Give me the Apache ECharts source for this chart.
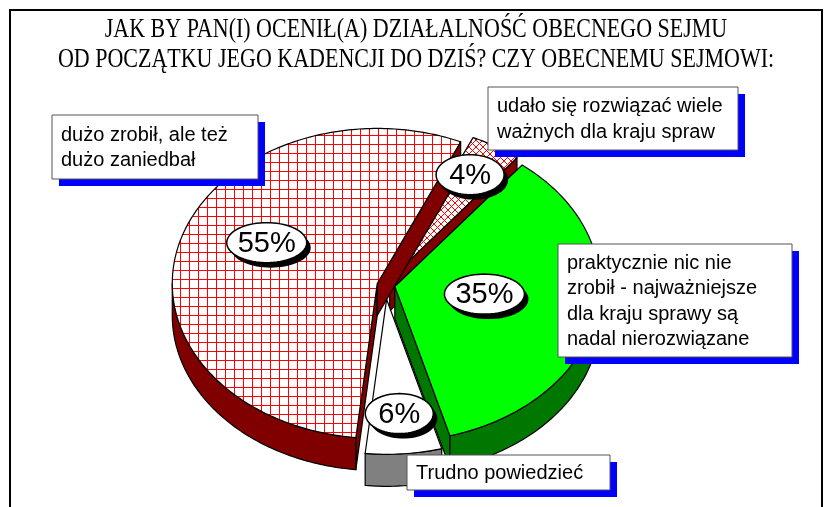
<!DOCTYPE html>
<html>
<head>
<meta charset="utf-8">
<script src="https://cdn.jsdelivr.net/npm/echarts@6/dist/echarts.min.js"></script>
<style>
  html, body { margin: 0; padding: 0; background: #fff; }
  #chart { width: 830px; height: 507px; }
</style>
</head>
<body>
<div id="chart"></div>
<script>
// dane wykresu (kolejnosc zgodnie z ruchem wskazowek zegara)
var categories = [
  'udało się rozwiązać wiele\nważnych dla kraju spraw',
  'praktycznie nic nie\nzrobił - najważniejsze\ndla kraju sprawy są\nnadal nierozwiązane',
  'Trudno powiedzieć',
  'dużo zrobił, ale też\ndużo zaniedbał'
];
var values = [4, 35, 6, 55];
var percentLabels = ['4%', '35%', '6%', '55%'];

var titleLines = [
  'JAK BY PAN(I) OCENIŁ(A) DZIAŁALNOŚĆ OBECNEGO SEJMU',
  'OD POCZĄTKU JEGO KADENCJI DO DZIŚ? CZY OBECNEMU SEJMOWI:'
];

// wyglad
var cx = 385, cy = 285, rx = 205, ry = 155, depth = 32;
var startAngle = 24; // stopnie, od godziny 12, zgodnie z zegarem
var explode = [9, 10, 19, 8];
var labelRadius = [0.78, 0.44, 0.74, 0.6];
var labelShift = [-1, -5, 0, 11];
var sideColors = ['#800000', '#007800', '#808080', '#800000'];

function makePattern(kind) {
  var c = document.createElement('canvas');
  var s = kind === 'grid' ? 9 : 7;
  c.width = s; c.height = s;
  var g = c.getContext('2d');
  g.fillStyle = '#fff';
  g.fillRect(0, 0, s, s);
  g.strokeStyle = '#ff0000';
  g.lineWidth = 1;
  g.beginPath();
  if (kind === 'grid') {
    g.moveTo(0.5, 0); g.lineTo(0.5, s);
    g.moveTo(0, 0.5); g.lineTo(s, 0.5);
  } else {
    g.moveTo(0, 0); g.lineTo(s, s);
    g.moveTo(s, 0); g.lineTo(0, s);
  }
  g.stroke();
  return { image: c, repeat: 'repeat' };
}
var topFills = [makePattern('cross'), '#00ff00', '#ffffff', makePattern('grid')];

var total = values.reduce(function (a, b) { return a + b; }, 0);

function pt(o, a, f) {
  var r = a * Math.PI / 180;
  return [o[0] + rx * f * Math.sin(r), o[1] - ry * f * Math.cos(r)];
}
function arc(o, from, to) {
  var pts = [];
  var n = Math.max(2, Math.ceil(Math.abs(to - from)));
  for (var k = 0; k <= n; k++) pts.push(pt(o, from + (to - from) * k / n, 1));
  return pts;
}
function down(p) { return [p[0], p[1] + depth]; }
function ellipse(x, y, ex, ey) {
  var pts = [];
  for (var k = 0; k < 72; k++) {
    var t = k / 72 * Math.PI * 2;
    pts.push([x + ex * Math.cos(t), y + ey * Math.sin(t)]);
  }
  return pts;
}

// kolejnosc rysowania: od tylu do przodu
var slices = [];
var cum = 0;
values.forEach(function (v, i) {
  var a0 = startAngle + 360 * cum / total;
  var a1 = a0 + 360 * v / total;
  cum += v;
  var mid = (a0 + a1) / 2;
  slices.push({ a0: a0, a1: a1, mid: mid, front: -Math.cos(mid * Math.PI / 180) });
});
var order = slices.map(function (s, i) { return i; }).sort(function (a, b) {
  return slices[a].front - slices[b].front;
});

function renderSlice(params, api) {
  var i = params.dataIndex;
  var s = slices[i];
  var rank = order.indexOf(i);
  var m = s.mid * Math.PI / 180;
  var o = [cx + explode[i] * Math.sin(m), cy - explode[i] * Math.cos(m) * ry / rx];
  var line = { stroke: '#000', lineWidth: 1.2, lineJoin: 'round' };
  var side = sideColors[i];
  var children = [];
  var z = rank * 10;

  // sciany boczne przy krawedziach
  var sa = Math.sin(s.a0 * Math.PI / 180);
  var sb = Math.sin(s.a1 * Math.PI / 180);
  if (sa < 0) {
    var e0 = pt(o, s.a0, 1);
    children.push({ type: 'polygon', z2: z + 1, shape: { points: [o, e0, down(e0), down(o)] },
      style: Object.assign({ fill: side }, line) });
  }
  if (sb > 0) {
    var e1 = pt(o, s.a1, 1);
    children.push({ type: 'polygon', z2: z + 1, shape: { points: [o, e1, down(e1), down(o)] },
      style: Object.assign({ fill: side }, line) });
  }
  // sciana zewnetrzna (widoczna czesc)
  [[90, 270], [450, 630]].forEach(function (r) {
    var f = Math.max(s.a0, r[0]), t = Math.min(s.a1, r[1]);
    if (t > f) {
      var top = arc(o, f, t);
      var bottom = top.map(down).reverse();
      children.push({ type: 'polygon', z2: z + 2, shape: { points: top.concat(bottom) },
        style: Object.assign({ fill: side }, line) });
    }
  });
  // gorna powierzchnia
  children.push({ type: 'polygon', z2: z + 3, shape: { points: [o].concat(arc(o, s.a0, s.a1)) },
    style: Object.assign({ fill: topFills[i] }, line) });

  // etykieta procentowa
  var lp = pt(o, s.mid + labelShift[i], labelRadius[i]);
  var txt = percentLabels[i];
  var ex = 22 + 6 * txt.length, ey = 20;
  children.push({ type: 'polygon', z2: 100, shape: { points: ellipse(lp[0] + 4, lp[1] + 5, ex, ey) },
    style: { fill: '#000' } });
  children.push({ type: 'polygon', z2: 101, shape: { points: ellipse(lp[0], lp[1], ex, ey) },
    style: { fill: '#fff', stroke: '#000', lineWidth: 1.5 } });
  children.push({ type: 'text', z2: 102, x: lp[0], y: lp[1] + 1,
    style: { text: txt, fill: '#000', font: '29px "Liberation Sans", Arial, sans-serif',
      align: 'center', verticalAlign: 'middle' } });

  return { type: 'group', children: children };
}

// ramki z opisami kategorii
var boxes = [
  { x: 488, y: 87, w: 250, h: 63 },
  { x: 558, y: 244, w: 234, h: 113 },
  { x: 407, y: 455, w: 203, h: 35 },
  { x: 52, y: 115, w: 206, h: 64 }
];
var graphics = [
  { type: 'rect', shape: { x: 10, y: 10, width: 812, height: 520 },
    style: { fill: 'none', stroke: '#000', lineWidth: 2 }, z: 1 }
];
titleLines.forEach(function (t, k) {
  graphics.push({ type: 'text', z: 5, x: 416, y: 30 + k * 30, scaleY: 1.25,
    style: { text: t, fill: '#000', font: '22px "Liberation Serif", "Times New Roman", serif',
      align: 'center', verticalAlign: 'middle' } });
});
boxes.forEach(function (b, i) {
  graphics.push({ type: 'rect', z: 10, shape: { x: b.x + 7, y: b.y + 7, width: b.w, height: b.h },
    style: { fill: '#0000ff' } });
  graphics.push({ type: 'rect', z: 11, shape: { x: b.x, y: b.y, width: b.w, height: b.h },
    style: { fill: '#fff', stroke: '#555', lineWidth: 1 } });
  graphics.push({ type: 'text', z: 12, x: b.x + 9, y: b.y + b.h / 2 + 1,
    style: { text: categories[i], fill: '#000', font: '20px "Liberation Sans", Arial, sans-serif',
      lineHeight: 25.5, verticalAlign: 'middle', align: 'left' } });
});

var option = {
  backgroundColor: '#fff',
  animation: false,
  graphic: graphics,
  series: [{
    type: 'custom',
    coordinateSystem: 'none',
    renderItem: renderSlice,
    data: values.map(function (v) { return [v]; })
  }]
};

var chart = echarts.init(document.getElementById('chart'));
chart.setOption(option);
</script>
</body>
</html>
